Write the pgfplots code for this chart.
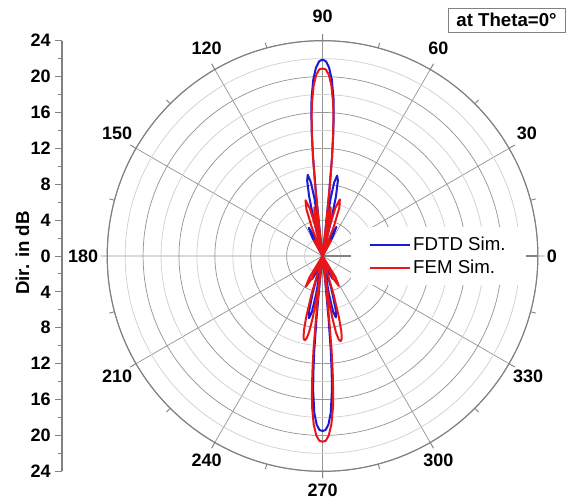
\documentclass[border=0pt]{standalone}
\usepackage{fontspec}
\setmainfont{Liberation Sans}
\usepackage{pgfplots}
\usepackage{pgfplotstable}
\pgfplotsset{compat=1.18}
\usepgfplotslibrary{polar}

\definecolor{fdtd}{RGB}{25,25,215}
\definecolor{fem}{RGB}{232,22,22}
\definecolor{gridmajor}{RGB}{150,150,150}
\definecolor{gridminor}{RGB}{208,208,208}
\definecolor{axisgray}{RGB}{130,130,130}

% Directivity pattern, phi in degrees, directivity in dB (clipped at 0 dB)
\pgfplotstableread{
phi  dir
0    0
60   0
62   2.3
64.5 3.6
67   2.3
69   0
75.5 0
76.3 4
77.3 6.8
78.5 8.6
79.7 9.1
81   8.3
82   6.5
82.7 4
83.2 0
83.5 2.5
84   7
84.5 11
85   13.8
85.5 15.8
86   17.6
87   19.7
88   21.0
89   21.7
90   21.9
91   21.7
92   21.0
93   19.7
94   17.6
94.5 15.8
95   13.8
95.5 11
96   7
96.5 2.5
96.8 0
97.3 4
98   6.5
99   8.3
100.3 9.2
101.5 8.6
102.7 6.8
103.7 4
104.5 0
111  0
113  2.3
116  3.5
119  2.3
121  0
241  0
243.5 2.0
246  2.8
248.5 2.0
251  0
254  0
255  4
256.2 6.2
257.7 7.1
259.2 6.4
260.5 4.2
262  0
263.5 0
264  3
264.5 7
265  10.5
265.5 13
266  15
267  17.5
268  18.8
269  19.4
270  19.5
271  19.4
272  18.8
273  17.5
274  15
274.5 13
275  10.5
275.5 7
276  3
276.5 0
278  0
279.5 4.2
280.8 6.4
282.3 7.0
283.8 6.2
285  4
286  0
289  0
291.5 2.0
294  2.8
296.5 2.0
299  0
360  0
}\fdtdtable

\pgfplotstableread{
phi  dir
0    0
58   0
61   2.0
64   0
67.5 0
69   3.5
70.8 5.7
73   6.6
75   5.6
76.5 3.5
77.5 0
78.2 2.5
79.2 4.8
80.5 5.5
81.8 4.5
82.5 2.5
83   0
83.5 3
84   7.5
84.5 11
85   13.5
85.5 15.5
86   17
87   19
88   20.2
89   20.8
90   20.9
91   20.8
92   20.2
93   19
94   17
94.5 15.5
95   13.5
95.5 11
96   7.5
96.5 3
97   0
97.5 2.5
98.2 4.5
99.5 5.5
100.8 4.8
101.8 2.5
102.5 0
103.5 3.5
105  5.5
107  6.5
109  5.5
110.5 3.5
112  0
116  0
119  2.0
122  0
236  0
238.5 2.8
241.5 3.9
244.5 2.8
247  0
253  0
254  4.5
255  7
256  8.6
257  9.4
258  9.6
259  9.4
260  8.6
261  7
262  4.5
263  0
263.5 3
264  7
264.5 10.5
265  13
265.5 15
266  16.8
267  18.8
268  20
269  20.6
270  20.7
271  20.6
272  20
273  18.8
274  16.8
274.5 15
275  13
275.5 10.5
276  7
276.5 3
277  0
278  4.5
279  7
280  8.7
281  9.5
282  9.7
283  9.5
284  8.7
285  7
286  4.5
287  0
293  0
295.5 2.8
298.5 3.8
301.5 2.8
304  0
360  0
}\femtable

\begin{document}
\begin{tikzpicture}
% polar pattern
\begin{polaraxis}[
  at={(241.9pt,-192pt)}, anchor=center,
  scale only axis, width=323pt, height=323pt,
  xmin=0, xmax=360, ymin=0, ymax=24,
  xtick={0,30,...,330},
  minor xtick={15,45,...,345},
  ytick={4,8,...,24},
  minor ytick={2,6,...,22},
  yticklabels={},
  grid=both, xminorgrids=false,
  major grid style={gridmajor, line width=0.55pt},
  minor grid style={gridminor, line width=0.55pt},
  axis line style={axisgray, line width=0.9pt},
  ytick style={draw=none},
  xtick style={axisgray, line width=0.7pt},
  tick align=inside,
  major tick length=5pt, minor tick length=4pt,
  /pgf/number format/assume math mode=true,
  xticklabel style={font=\bfseries\fontsize{13.5}{15}\selectfont,
    anchor=\tick-180, inner sep=0pt, shift={(\tick:6.5pt)},
    yshift={6.5pt*max(sin(\tick),0)+3pt*min(sin(\tick),0)}},
  legend style={at={(0.566,0.567)}, anchor=north west, draw=none, fill=white,
    font=\fontsize{14}{16}\selectfont, inner xsep=13pt, inner ysep=5pt, row sep=2pt},
  legend cell align=left,
  legend image code/.code={\draw[#1] (0pt,0pt) -- (30pt,0pt);},
]
\addplot[fdtd, line width=1.5pt, line join=round] table[x=phi, y=dir] {\fdtdtable};
\addlegendentry{FDTD Sim.}
\addplot[fem, line width=1.5pt, line join=round] table[x=phi, y=dir] {\femtable};
\addlegendentry{FEM Sim.}
\end{polaraxis}

% directivity scale on the left
\begin{axis}[
  at={(46.5pt,-192pt)}, anchor=west,
  scale only axis, width=1pt, height=323pt,
  xmin=0, xmax=1, ymin=-24, ymax=24,
  hide x axis, axis y line*=left,
  ytick={-24,-20,...,24},
  minor ytick={-22,-18,...,22},
  tick align=outside,
  major tick length=5pt, minor tick length=3pt,
  axis line style={axisgray, line width=0.8pt},
  ytick style={axisgray, line width=0.7pt},
  /pgf/number format/assume math mode=true,
  yticklabel={\pgfmathparse{abs(\tick)}\pgfmathprintnumber{\pgfmathresult}},
  yticklabel style={font=\bfseries\fontsize{13.5}{15}\selectfont},
]
\end{axis}

\node[rotate=90, font=\bfseries\fontsize{14}{16}\selectfont] at (16.9pt,-189.8pt) {Dir. in dB};

\node[draw=axisgray, line width=0.7pt, minimum width=87.75pt, minimum height=18pt,
  inner sep=0pt, font=\bfseries\fontsize{14}{16}\selectfont] at (379.9pt,-15pt) {at Theta=0°};

\pgfresetboundingbox
\path[use as bounding box] (0pt,0pt) rectangle (431.25pt,-377.25pt);
\end{tikzpicture}
\end{document}
